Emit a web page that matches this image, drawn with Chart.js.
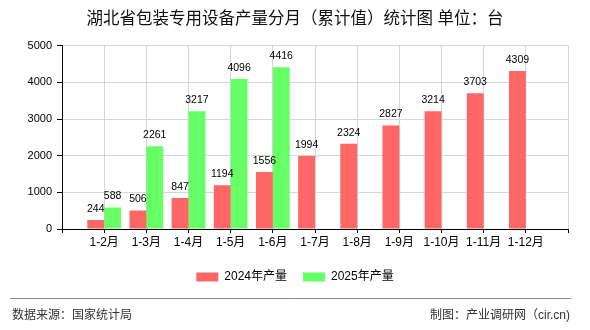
<!DOCTYPE html>
<html>
<head>
<meta charset="utf-8">
<script src="https://cdn.jsdelivr.net/npm/chart.js@4/dist/chart.umd.min.js"></script>
<style>
html,body{margin:0;padding:0;background:#fff;}
canvas{display:block;}
</style>
</head>
<body>
<canvas id="c" width="590" height="330"></canvas>
<script>
const titleText = '湖北省包装专用设备产量分月（累计值）统计图 单位：台';
const categories = ['1-2月','1-3月','1-4月','1-5月','1-6月','1-7月','1-8月','1-9月','1-10月','1-11月','1-12月'];
const series2024Name = '2024年产量';
const series2025Name = '2025年产量';
const values2024 = [244, 506, 847, 1194, 1556, 1994, 2324, 2827, 3214, 3703, 4309];
const values2025 = [588, 2261, 3217, 4096, 4416];
const yTicks = [0, 1000, 2000, 3000, 4000, 5000];
const sourceText = '数据来源：国家统计局';
const makerText = '制图：产业调研网（cir.cn)';

const FONT = '"Liberation Sans", "Noto Sans CJK SC", sans-serif';

// axis has an empty slot at each end, bars sit on the tick positions
const labels = [''].concat(categories, ['']);
function pad(vals) {
  const out = [null];
  for (let i = 0; i < categories.length; i++) out.push(i < vals.length ? vals[i] : null);
  out.push(null);
  return out;
}

const valueLabels = {
  id: 'valueLabels',
  afterDatasetsDraw(chart) {
    const ctx = chart.ctx;
    ctx.save();
    ctx.font = '10.5px ' + FONT;
    ctx.fillStyle = '#000';
    ctx.textAlign = 'center';
    ctx.textBaseline = 'alphabetic';
    chart.data.datasets.forEach((ds, di) => {
      const meta = chart.getDatasetMeta(di);
      meta.data.forEach((el, i) => {
        const v = ds.data[i];
        if (v === null || v === undefined) return;
        ctx.fillText(String(v), el.x, el.y - 8);
      });
    });
    ctx.restore();
  }
};

const footer = {
  id: 'footer',
  afterDraw(chart) {
    const ctx = chart.ctx;
    ctx.save();
    ctx.strokeStyle = '#8a8a8a';
    ctx.lineWidth = 1;
    ctx.beginPath();
    ctx.moveTo(10, 298.5);
    ctx.lineTo(571, 298.5);
    ctx.stroke();
    ctx.font = '12px ' + FONT;
    ctx.fillStyle = '#333';
    ctx.textBaseline = 'middle';
    ctx.textAlign = 'left';
    ctx.fillText(sourceText, 12, 316);
    ctx.textAlign = 'right';
    ctx.fillText(makerText, 570, 316);
    ctx.restore();
  }
};

new Chart(document.getElementById('c'), {
  type: 'bar',
  data: {
    labels: labels,
    datasets: [
      { label: series2024Name, data: pad(values2024), backgroundColor: 'rgb(255,102,102)', borderWidth: 0 },
      { label: series2025Name, data: pad(values2025), backgroundColor: 'rgb(102,255,102)', borderWidth: 0 }
    ]
  },
  options: {
    responsive: false,
    animation: false,
    devicePixelRatio: 1,
    layout: { padding: { left: 0, right: 0, top: 0, bottom: 37 } },
    datasets: { bar: { categoryPercentage: 0.8, barPercentage: 1.0 } },
    plugins: {
      title: {
        display: true,
        text: titleText,
        color: '#111',
        font: { family: FONT, size: 16.5, weight: 'normal' },
        padding: { top: 10, bottom: 16 }
      },
      legend: {
        display: true,
        position: 'bottom',
        labels: {
          boxWidth: 22,
          boxHeight: 9,
          padding: 16,
          color: '#000',
          font: { family: FONT, size: 12 }
        }
      },
      tooltip: { enabled: false }
    },
    scales: {
      x: {
        offset: false,
        grid: { offset: false, color: '#d6d6d6', tickColor: '#000', tickLength: 4, drawOnChartArea: true },
        border: { color: '#000', width: 1 },
        ticks: {
          autoSkip: false, maxRotation: 0, minRotation: 0, padding: 2,
          color: '#000', font: { family: FONT, size: 12 }
        },
        afterFit(scale) { scale.height = 26; }
      },
      y: {
        min: 0, max: 5000,
        afterBuildTicks(scale) { scale.ticks = yTicks.map(v => ({ value: v })); },
        grid: { color: '#d6d6d6', tickColor: '#000', tickLength: 5 },
        border: { color: '#000', width: 1 },
        ticks: {
          padding: 5, color: '#000', font: { family: FONT, size: 11 },
          callback: (v) => String(v)
        },
        afterFit(scale) { scale.width = 62; }
      },
      yRight: {
        position: 'right',
        min: 0, max: 5000,
        grid: { display: false, drawTicks: false },
        border: { display: false },
        ticks: { display: false },
        afterFit(scale) { scale.width = 22; }
      }
    }
  },
  plugins: [valueLabels, footer]
});
</script>
</body>
</html>
